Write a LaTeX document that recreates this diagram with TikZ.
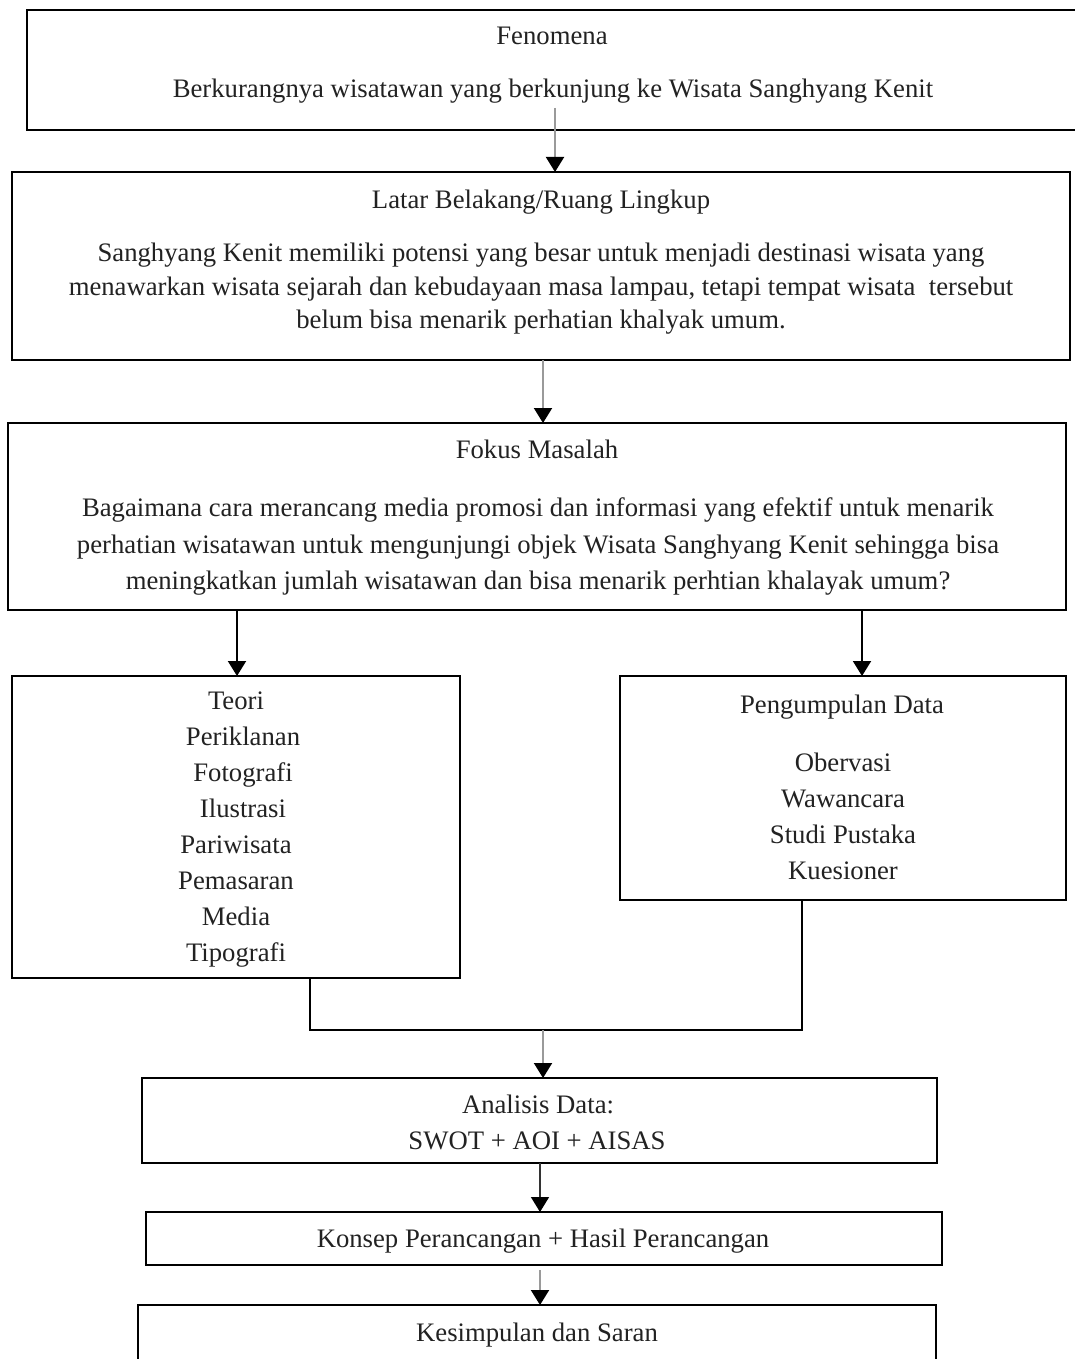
\documentclass[tikz,border=0pt]{standalone}
\usepackage{fontspec}
\setmainfont{Liberation Serif}
\usetikzlibrary{arrows.meta,calc}
\definecolor{txt}{HTML}{222222}
\definecolor{gline}{HTML}{9A9A9A}
\begin{document}
\begin{tikzpicture}[x=1pt,y=-1pt,
  box/.style={draw=black,line width=1.6pt,rectangle,inner sep=0pt,outer sep=0pt},
  lbl/.style={text=txt,font=\fontsize{26.7}{36}\selectfont,inner sep=0pt,text height=20pt,text depth=4pt,anchor=center},
  tip/.style={-{Triangle[width=18pt,length=15pt,color=black,fill=black]}},
  garrow/.style={tip,draw=gline,line width=2pt},
  barrow/.style={tip,draw=black,line width=2pt},
  tarrow/.style={tip,draw=black!80,line width=1.4pt},
  joinline/.style={draw=black,line width=1.6pt}
]
\useasboundingbox (0,0) rectangle (1075,1359);
\fill[white] (0,0) rectangle (1075,1359);
\begin{scope}
\clip (0,0) rectangle (1075,1359);
% boxes
\node[box,minimum width=1058pt,minimum height=120pt] (b1) at (556,70) {};
\node[box,minimum width=1058pt,minimum height=188pt] (b2) at (541,266) {};
\node[box,minimum width=1058pt,minimum height=187pt] (b3) at (537,516.5) {};
\node[box,minimum width=448pt,minimum height=302pt] (b4) at (236,827) {};
\node[box,minimum width=446pt,minimum height=224pt] (b5) at (843,788) {};
\node[box,minimum width=795pt,minimum height=85pt] (b6) at (539.5,1120.5) {};
\node[box,minimum width=796pt,minimum height=53pt] (b7) at (544,1238.5) {};
\node[box,minimum width=798pt,minimum height=110pt] (b8) at (537,1360) {};
\end{scope}
% texts
\node[lbl] (t1a) at (552,37) {Fenomena};
\node[lbl] (t1b) at (553,90) {Berkurangnya wisatawan yang berkunjung ke Wisata Sanghyang Kenit};
\node[lbl] (t2a) at (541,200) {Latar Belakang/Ruang Lingkup};
\node[lbl] (t2b) at (541,253) {Sanghyang Kenit memiliki potensi yang besar untuk menjadi destinasi wisata yang};
\node[lbl] (t2c) at (541,287) {menawarkan wisata sejarah dan kebudayaan masa lampau, tetapi tempat wisata\ \ tersebut};
\node[lbl] (t2d) at (541,320) {belum bisa menarik perhatian khalyak umum.};
\node[lbl] (t3a) at (537,450) {Fokus Masalah};
\node[lbl] (t3b) at (538,508) {Bagaimana cara merancang media promosi dan informasi yang efektif untuk menarik};
\node[lbl] (t3c) at (538,545) {perhatian wisatawan untuk mengunjungi objek Wisata Sanghyang Kenit sehingga bisa};
\node[lbl] (t3d) at (538,581) {meningkatkan jumlah wisatawan dan bisa menarik perhtian khalayak umum?};
\node[lbl] (t4a) at (236,701) {Teori};
\node[lbl] (t4b) at (243,737) {Periklanan};
\node[lbl] (t4c) at (243,773) {Fotografi};
\node[lbl] (t4d) at (243,809) {Ilustrasi};
\node[lbl] (t4e) at (236,845) {Pariwisata};
\node[lbl] (t4f) at (236,881) {Pemasaran};
\node[lbl] (t4g) at (236,917) {Media};
\node[lbl] (t4h) at (236,953) {Tipografi};
\node[lbl] (t5a) at (842,705) {Pengumpulan Data};
\node[lbl] (t5b) at (843,763) {Obervasi};
\node[lbl] (t5c) at (843,799) {Wawancara};
\node[lbl] (t5d) at (843,835) {Studi Pustaka};
\node[lbl] (t5e) at (843,871) {Kuesioner};
\node[lbl] (t6a) at (538,1105) {Analisis Data:};
\node[lbl] (t6b) at (537,1141) {SWOT + AOI + AISAS};
\node[lbl] (t7) at (543,1239) {Konsep Perancangan + Hasil Perancangan};
\node[lbl] (t8) at (537,1333) {Kesimpulan dan Saran};
% connectors
\coordinate (a1s) at (555,108);
\draw[garrow] (a1s) -- (a1s |- b2.north);
\coordinate (a2s) at (543,360);
\draw[garrow] (a2s |- b2.south) -- (a2s |- b3.north);
\coordinate (a3s) at (237,610);
\draw[barrow] (a3s |- b3.south) -- (a3s |- b4.north);
\coordinate (a4s) at (862,610);
\draw[barrow] (a4s |- b3.south) -- (a4s |- b5.north);
\coordinate (jl) at (310,1030);
\coordinate (jr) at (802,1030);
\coordinate (jm) at (543,1030);
\draw[joinline] (jl |- b4.south) -- (jl) -- (jr) -- (jr |- b5.south);
\draw[garrow] (jm) -- (jm |- b6.north);
\coordinate (a6s) at (540,1163);
\draw[tarrow] (a6s |- b6.south) -- (a6s |- b7.north);
\coordinate (a7s) at (540,1270);
\draw[garrow] (a7s) -- (a7s |- b8.north);
\end{tikzpicture}
\end{document}
